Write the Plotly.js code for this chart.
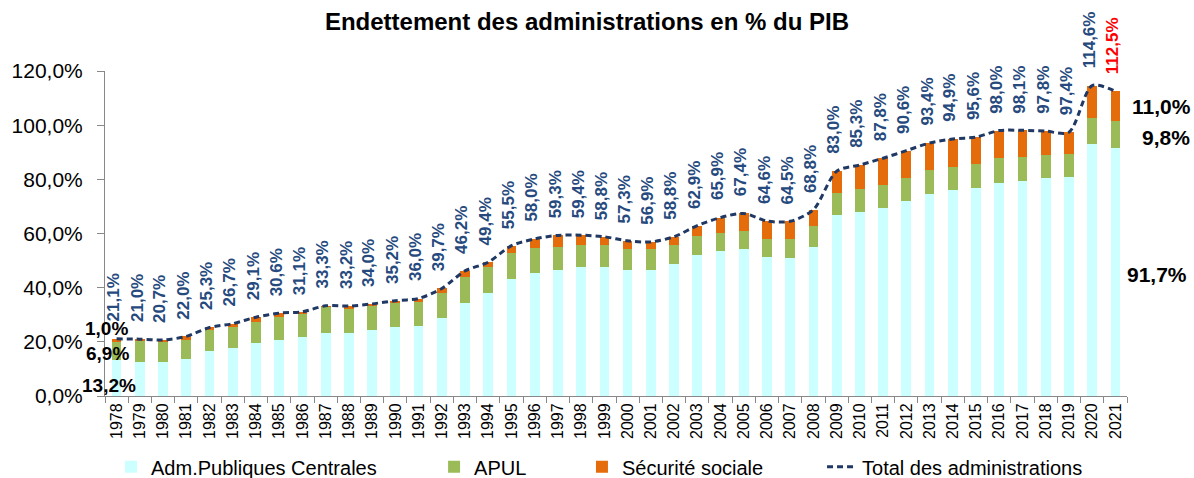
<!DOCTYPE html>
<html>
<head>
<meta charset="utf-8">
<script src="https://cdn.plot.ly/plotly-3.0.1.min.js"></script>
<style>
  html, body { margin: 0; padding: 0; background: #fff; }
  #chart { width: 1194px; height: 478px; }
</style>
</head>
<body>
<div id="chart"></div>
<script>
// ---- Data ----
const years = ["1978","1979","1980","1981","1982","1983","1984","1985","1986","1987","1988","1989","1990","1991","1992","1993","1994","1995","1996","1997","1998","1999","2000","2001","2002","2003","2004","2005","2006","2007","2008","2009","2010","2011","2012","2013","2014","2015","2016","2017","2018","2019","2020","2021"];

const apuc = [13.2,12.6,12.6,13.6,16.7,17.7,19.4,20.6,21.7,23.1,23.2,24.4,25.6,25.9,28.9,34.3,38.0,43.3,45.3,46.5,47.5,47.8,46.7,46.7,48.8,52.0,53.6,54.1,51.4,51.1,55.2,66.9,68.1,69.5,71.9,74.6,75.9,76.7,78.8,79.4,80.4,80.9,93.0,91.7];

const apul = [6.9,7.6,7.2,7.2,7.5,7.6,8.0,8.4,8.5,9.6,8.9,8.9,8.7,8.9,9.1,9.5,9.5,9.4,9.4,8.4,8.3,7.8,7.4,7.4,6.9,6.9,6.5,6.8,6.7,7.0,7.5,8.2,8.2,8.3,8.6,8.7,8.8,8.9,9.0,8.7,8.6,8.5,9.7,9.8];

const asso = [1.0,0.8,0.9,1.2,1.1,1.4,1.7,1.6,0.9,0.6,1.1,0.7,0.9,1.2,1.7,2.4,1.9,2.8,3.3,4.4,3.6,3.2,3.2,2.8,3.1,4.0,5.8,6.5,6.5,6.4,6.1,7.9,9.0,10.0,10.1,10.1,10.2,10.0,10.2,10.0,8.8,8.0,11.9,11.0];

const total = [21.1,21.0,20.7,22.0,25.3,26.7,29.1,30.6,31.1,33.3,33.2,34.0,35.2,36.0,39.7,46.2,49.4,55.5,58.0,59.3,59.4,58.8,57.3,56.9,58.8,62.9,65.9,67.4,64.6,64.5,68.8,83.0,85.3,87.8,90.6,93.4,94.9,95.6,98.0,98.1,97.8,97.4,114.6,112.5];

const seriesNames = ["Adm.Publiques Centrales", "APUL", "Sécurité sociale", "Total des administrations"];
const chartTitle = "Endettement des administrations en % du PIB";
const yTickVals = [0, 20, 40, 60, 80, 100, 120];

// ---- Helpers ----
const FONT = '"Liberation Sans", Arial, Helvetica, sans-serif';
const pct = v => v.toFixed(1).replace('.', ',') + '%';
const n = years.length;
const last = n - 1;

const barWidth = 0.42;

const traces = [
  { type: 'bar', name: seriesNames[0], x: years, y: apuc, width: barWidth,
    marker: { color: '#CCFFFF' }, legend: 'legend', hoverinfo: 'skip' },
  { type: 'bar', name: seriesNames[1], x: years, y: apul, width: barWidth,
    marker: { color: '#9BBB59' }, legend: 'legend2', hoverinfo: 'skip' },
  { type: 'bar', name: seriesNames[2], x: years, y: asso, width: barWidth,
    marker: { color: '#E46C0A' }, legend: 'legend3', hoverinfo: 'skip' },
  { type: 'scatter', mode: 'lines', name: seriesNames[3], x: years, y: total,
    line: { color: '#1F3864', width: 3, dash: '6px,4px', shape: 'spline', smoothing: 0.8 },
    legend: 'legend4', hoverinfo: 'skip' }
];

// Total labels above the line (rotated); x given as category index
const annotations = years.map((yr, i) => ({
  x: i, y: total[i], xref: 'x', yref: 'y',
  text: '<b>' + pct(total[i]) + '</b>',
  textangle: -90, showarrow: false,
  xanchor: 'center', yanchor: 'bottom', xshift: -3, yshift: 15,
  font: { family: FONT, size: 17, color: i === last ? '#FF0000' : '#264A7E' }
}));

// Component labels for the first year
annotations.push(
  { x: 0, y: 0, xref: 'x', yref: 'y', text: '<b>' + pct(apuc[0]) + '</b>',
    showarrow: false, xanchor: 'center', yanchor: 'bottom', xshift: -8, yshift: -2,
    font: { family: FONT, size: 19, color: '#000' } },
  { x: 0, y: apuc[0] + apul[0] / 2, xref: 'x', yref: 'y', text: '<b>' + pct(apul[0]) + '</b>',
    showarrow: false, xanchor: 'center', yanchor: 'middle', xshift: -9, yshift: -3,
    font: { family: FONT, size: 19, color: '#000' } },
  { x: 0, y: total[0], xref: 'x', yref: 'y', text: '<b>' + pct(asso[0]) + '</b>',
    showarrow: false, xanchor: 'center', yanchor: 'bottom', xshift: -10, yshift: -2,
    font: { family: FONT, size: 19, color: '#000' } }
);

// Component labels for the last year (right margin)
annotations.push(
  { x: last, y: apuc[last] / 2, xref: 'x', yref: 'y', text: '<b>' + pct(apuc[last]) + '</b>',
    showarrow: false, xanchor: 'right', yanchor: 'middle', xshift: 74, yshift: -3,
    font: { family: FONT, size: 21, color: '#000' } },
  { x: last, y: apuc[last] + apul[last] / 2, xref: 'x', yref: 'y', text: '<b>' + pct(apul[last]) + '</b>',
    showarrow: false, xanchor: 'right', yanchor: 'middle', xshift: 77, yshift: -3,
    font: { family: FONT, size: 21, color: '#000' } },
  { x: last, y: apuc[last] + apul[last] + asso[last] / 2, xref: 'x', yref: 'y', text: '<b>' + pct(asso[last]) + '</b>',
    showarrow: false, xanchor: 'right', yanchor: 'middle', xshift: 78, yshift: 0,
    font: { family: FONT, size: 21, color: '#000' } }
);

const legendBase = {
  orientation: 'h', yanchor: 'middle', xanchor: 'left', y: -0.218,
  font: { family: FONT, size: 20, color: '#000' },
  bgcolor: 'rgba(0,0,0,0)', borderwidth: 0
};

const layout = {
  width: 1194, height: 478,
  margin: { l: 105, r: 67, t: 71, b: 82, autoexpand: false },
  paper_bgcolor: '#fff', plot_bgcolor: '#fff',
  separators: ', ',
  barmode: 'stack',
  font: { family: FONT, color: '#000' },
  title: {
    text: '<b>' + chartTitle + '</b>',
    font: { family: FONT, size: 24, color: '#000' },
    xref: 'container', yref: 'container', x: 0.4916, xanchor: 'center', y: 0.954, yanchor: 'middle'
  },
  xaxis: {
    type: 'category',
    range: [-0.5, n - 0.5],
    showgrid: false, zeroline: false,
    showline: true, linecolor: '#888', linewidth: 1,
    ticks: 'outside', tickson: 'boundaries', ticklen: 6, tickcolor: '#888',
    tickangle: -90,
    tickfont: { family: FONT, size: 16, color: '#000' }
  },
  yaxis: {
    range: [0, 120],
    tickmode: 'array',
    tickvals: yTickVals,
    ticktext: yTickVals.map(pct),
    showgrid: false, zeroline: false,
    showline: true, linecolor: '#888', linewidth: 1,
    ticks: 'outside', ticklen: 7, tickcolor: '#888',
    ticklabelstandoff: 10,
    tickfont: { family: FONT, size: 21, color: '#000' }
  },
  annotations: annotations,
  showlegend: true,
  legend:  Object.assign({}, legendBase, { x: 0.0059 }),
  legend2: Object.assign({}, legendBase, { x: 0.3220 }),
  legend3: Object.assign({}, legendBase, { x: 0.4667 }),
  legend4: Object.assign({}, legendBase, { x: 0.7016 })
};

Plotly.newPlot('chart', traces, layout, { displayModeBar: false, staticPlot: true });
</script>
</body>
</html>
